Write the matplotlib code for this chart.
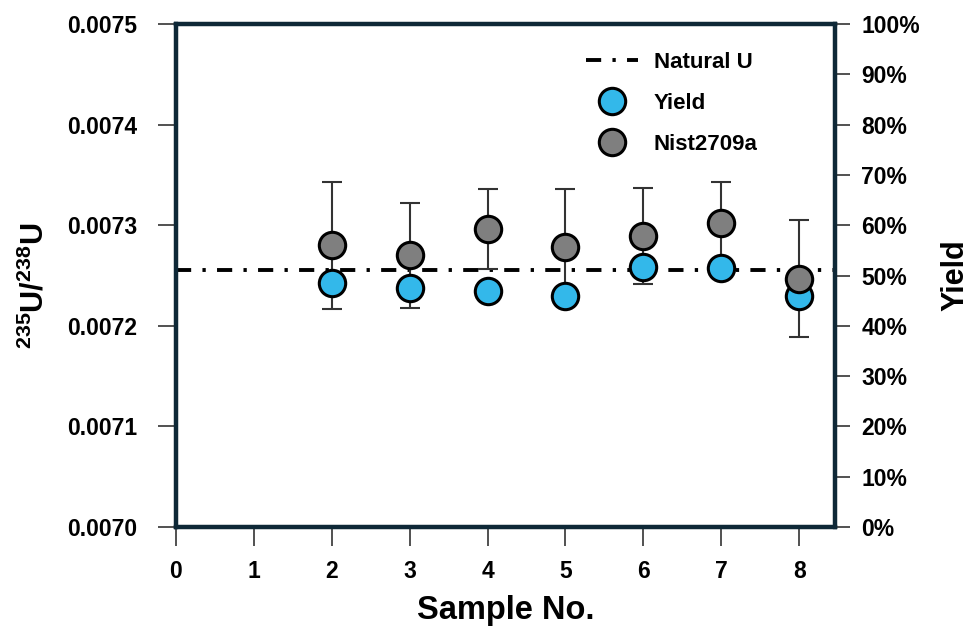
import matplotlib
matplotlib.use("Agg")
import matplotlib.pyplot as plt
from matplotlib.ticker import PercentFormatter, MultipleLocator, FormatStrFormatter
from matplotlib.lines import Line2D

plt.rcParams['font.family'] = ['Liberation Sans', 'DejaVu Sans']
plt.rcParams['font.weight'] = 'bold'
plt.rcParams['mathtext.fontset'] = 'custom'
plt.rcParams['mathtext.bf'] = 'Liberation Sans:bold'
plt.rcParams['mathtext.rm'] = 'Liberation Sans:bold'

# data
samples = [2, 3, 4, 5, 6, 7, 8]
nist_ratio = [0.007280, 0.007270, 0.007296, 0.007278, 0.007289, 0.007302, 0.007247]
nist_err = [0.0000631, 0.0000522, 0.0000400, 0.0000577, 0.0000477, 0.0000408, 0.0000582]
yield_pct = [48.5, 47.5, 46.9, 45.9, 51.7, 51.5, 45.9]
natural_u = 0.0072553

spine_col = '#0e2837'
blue = '#33b8ea'
grey = '#7f7f7f'
dash_dot = (3.9, 2.9, 0.85, 2.9)

fig = plt.figure(figsize=(9.69, 6.27), dpi=100)
ax1 = fig.add_axes([0.1816, 0.1595, 0.6801, 0.8022])
ax2 = ax1.twinx()   # yield axis
ax3 = ax1.twinx()   # gray markers on top, same scale as ax1

# left axis: natural U line + error bars
ax1.axhline(natural_u, color='black', lw=2.8, dashes=dash_dot, zorder=1)
ax1.errorbar(samples, nist_ratio, yerr=nist_err, fmt='none', ecolor='#333333',
             elinewidth=1.5, capsize=7, capthick=1.5, zorder=2)
ax1.set_xlim(0, 8.46)
ax1.set_ylim(0.0070, 0.0075)
ax1.yaxis.set_major_locator(MultipleLocator(0.0001))
ax1.yaxis.set_major_formatter(FormatStrFormatter('%.4f'))
ax1.set_xticks(range(0, 9))
ax1.set_xlabel('Sample No.', fontsize=23.5, fontweight='bold')
ax1.xaxis.set_label_coords(0.5, -0.135)
ax1.set_ylabel(r'$\mathbf{^{235}}$U/$\mathbf{^{238}}$U', fontsize=22,
               fontweight='bold')
ax1.yaxis.set_label_coords(-0.19, 0.48)

# right axis: yield
ax2.plot(samples, yield_pct, 'o', ms=19, mfc=blue, mec='black', mew=2.2)
ax2.set_ylim(0, 100)
ax2.yaxis.set_major_locator(MultipleLocator(10))
ax2.yaxis.set_major_formatter(PercentFormatter(decimals=0))
ax2.set_ylabel('Yield', fontsize=22, fontweight='bold', labelpad=15)

# gray markers drawn above blue
ax3.plot(samples, nist_ratio, 'o', ms=19, mfc=grey, mec='black', mew=2.2)
ax3.set_ylim(ax1.get_ylim())
ax3.set_yticks([])

for ax in (ax1, ax2, ax3):
    for s in ax.spines.values():
        s.set_color(spine_col)
        s.set_linewidth(3)
    ax.tick_params(axis='both', direction='out', length=13, width=1.2,
                   color='#333333', labelsize=16.5)

ax1.tick_params(axis='y', pad=15)
ax1.tick_params(axis='x', length=14, pad=10)
ax2.tick_params(axis='y', length=11, pad=8)
ax3.tick_params(axis='y', length=0)

handles = [
    Line2D([], [], color='black', lw=2.8, dashes=dash_dot),
    Line2D([], [], ls='none', marker='o', ms=19, mfc=blue, mec='black', mew=2.2),
    Line2D([], [], ls='none', marker='o', ms=19, mfc=grey, mec='black', mew=2.2),
]
ax3.legend(handles, ['Natural U', 'Yield', 'Nist2709a'], loc='upper left',
           bbox_to_anchor=(0.605, 0.967), frameon=False, borderpad=0,
           prop={'size': 16, 'weight': 'bold'}, labelspacing=0.9,
           handlelength=2.35, handletextpad=0.7)

fig.savefig('out.png', dpi=100)
